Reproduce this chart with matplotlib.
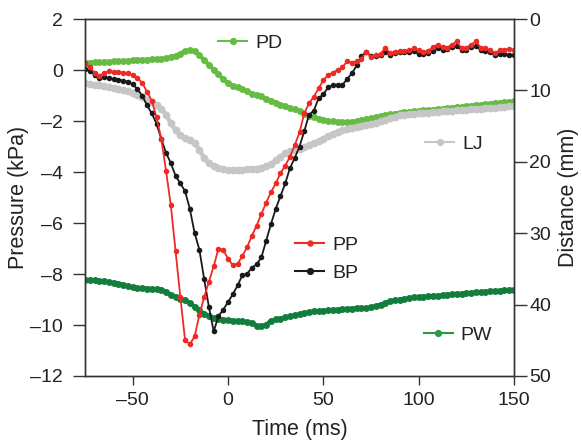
import numpy as np
import matplotlib
matplotlib.use("Agg")
import matplotlib.pyplot as plt
from matplotlib.lines import Line2D
from matplotlib.legend import Legend

plt.rcParams['font.family'] = ['Liberation Sans', 'DejaVu Sans']

# sample times (ms)
time_ms = np.arange(-75, 150.01, 2.5)

# Pressures (kPa)
pp = [0.27, 0.1, -0.1, -0.22, -0.13, -0.05, -0.07, -0.08, -0.1, -0.12,
      -0.2, -0.32, -0.5, -0.85, -1.2, -1.85, -2.7, -3.95, -5.3, -7.1,
      -8.9, -10.6, -10.75, -10.45, -9.6, -8.9, -8.3, -7.7, -7.0, -7.05,
      -7.4, -7.65, -7.6, -7.3, -6.95, -6.5, -6.1, -5.65, -5.2, -4.8,
      -4.45, -4.05, -3.75, -3.4, -2.95, -2.45, -1.7, -1.3, -1.05, -0.72,
      -0.4, -0.2, -0.1, 0.0, 0.1, 0.35, 0.28, 0.35, 0.45, 0.7,
      0.52, 0.58, 0.62, 0.88, 0.66, 0.72, 0.75, 0.76, 0.78, 0.85,
      0.78, 0.7, 0.76, 0.9, 1.0, 0.9, 0.88, 1.0, 1.12, 0.85,
      0.88, 1.0, 1.12, 0.88, 0.85, 0.78, 0.66, 0.78, 0.8, 0.82,
      0.8]
bp = [0.05, -0.05, -0.2, -0.33, -0.27, -0.32, -0.35, -0.38, -0.42, -0.46,
      -0.56, -0.75, -1.0, -1.38, -1.7, -2.1, -2.7, -3.25, -3.65, -4.15,
      -4.45, -4.75, -5.45, -6.4, -7.05, -8.2, -9.3, -10.25, -9.65, -9.4,
      -9.1, -8.8, -8.45, -8.05, -8.0, -7.75, -7.62, -7.35, -6.7, -6.05,
      -5.45, -4.95, -4.45, -3.85, -3.45, -3.0, -2.4, -1.75, -1.6, -1.1,
      -0.96, -0.68, -0.59, -0.59, -0.59, -0.35, -0.13, 0.18, 0.55, 0.7,
      0.55, 0.55, 0.58, 0.7, 0.6, 0.68, 0.7, 0.72, 0.72, 0.75,
      0.62, 0.62, 0.66, 0.75, 0.85, 0.8, 0.82, 0.9, 0.95, 0.78,
      0.8, 0.9, 0.95, 0.78, 0.75, 0.7, 0.58, 0.62, 0.62, 0.6,
      0.6]

# Distances (mm)
pd_ = [6.1, 6.1, 6.05, 6.05, 6.0, 6.0, 5.95, 5.95, 5.9, 5.85,
       5.8, 5.75, 5.7, 5.7, 5.65, 5.65, 5.6, 5.5, 5.35, 5.15,
       4.85, 4.5, 4.3, 4.55, 5.1, 5.75, 6.4, 7.1, 7.75, 8.45,
       9.0, 9.35, 9.55, 9.8, 10.15, 10.45, 10.65, 10.85, 11.2, 11.45,
       11.7, 12.0, 12.2, 12.45, 12.65, 12.95, 13.3, 13.55, 13.75, 13.95,
       14.1, 14.25, 14.35, 14.4, 14.45, 14.45, 14.4, 14.3, 14.15, 14.05,
       13.9, 13.75, 13.6, 13.45, 13.35, 13.25, 13.15, 13.05, 13.0, 12.95,
       12.85, 12.8, 12.75, 12.7, 12.65, 12.55, 12.5, 12.4, 12.35, 12.3,
       12.2, 12.15, 12.05, 12.0, 11.95, 11.85, 11.8, 11.7, 11.65, 11.6,
       11.55]
lj = [9.0, 9.1, 9.2, 9.3, 9.4, 9.5, 9.6, 9.8, 9.95, 10.1,
      10.35, 10.6, 10.9, 11.3, 11.6, 12.0, 12.6, 13.4, 14.6, 15.6,
      16.3, 16.7, 17.0, 17.4, 18.3, 19.5, 20.1, 20.6, 20.9, 21.0,
      21.1, 21.1, 21.1, 21.1, 21.05, 21.0, 20.95, 20.85, 20.6, 20.3,
      19.8, 19.3, 18.8, 18.5, 18.3, 18.2, 17.95, 17.7, 17.4, 17.1,
      16.75, 16.4, 16.05, 15.8, 15.6, 15.4, 15.25, 15.1, 14.95, 14.85,
      14.7, 14.5, 14.3, 14.1, 13.9, 13.7, 13.5, 13.4, 13.3, 13.25,
      13.2, 13.15, 13.1, 13.05, 13.0, 12.95, 12.9, 12.85, 12.8, 12.75,
      12.7, 12.65, 12.6, 12.55, 12.5, 12.45, 12.4, 12.35, 12.3, 12.25,
      12.2]
pw = [36.5, 36.55, 36.6, 36.7, 36.75, 36.85, 36.95, 37.05, 37.2, 37.45,
      37.6, 37.65, 37.7, 37.75, 37.8, 37.85, 37.9, 38.2, 38.6, 38.9,
      39.15, 39.4, 39.8, 40.3, 40.8, 41.3, 41.6, 41.85, 42.0, 42.1,
      42.2, 42.25, 42.3, 42.35, 42.45, 42.55, 42.95, 43.05, 42.8, 42.3,
      42.05, 41.95, 41.8, 41.65, 41.5, 41.35, 41.2, 41.05, 40.95, 40.9,
      40.85, 40.8, 40.75, 40.7, 40.65, 40.6, 40.55, 40.5, 40.5, 40.45,
      40.4, 40.2, 40.0, 39.75, 39.55, 39.4, 39.3, 39.2, 39.1, 39.0,
      38.95, 38.9, 38.85, 38.8, 38.75, 38.7, 38.6, 38.55, 38.5, 38.45,
      38.4, 38.35, 38.3, 38.25, 38.2, 38.15, 38.1, 38.05, 38.0, 37.95,
      37.9]

x_ticks = [-50, 0, 50, 100, 150]
p_ticks = [2, 0, -2, -4, -6, -8, -10, -12]
d_ticks = [0, 10, 20, 30, 40, 50]

C_PP = '#ee2a24'
C_BP = '#1a1a1a'
C_PD = '#66bb44'
C_LJ = '#c6c6c6'
C_PW = '#127d3c'
TXT = '#222222'
FS = 14
FSL = 15.5

fig = plt.figure(figsize=(5.82, 4.43), dpi=100)
ax = fig.add_axes([85/582, 1-376/443, 429/582, 357/443])  # distance axis (below)
ax2 = ax.twinx()                                              # pressure axis (on top)

# distance series
ax.plot(time_ms, pd_, color=C_PD, lw=3.0, marker='o', ms=5.0, mec='none')
ax.plot(time_ms, lj, color=C_LJ, lw=3.2, marker='o', ms=5.6, mec='none')
ax.plot(time_ms, pw, color=C_PW, lw=3.0, marker='o', ms=5.0, mec='none')

# pressure series
ax2.plot(time_ms, bp, color=C_BP, lw=1.3, marker='o', ms=4.0, mec='none')
ax2.plot(time_ms, pp, color=C_PP, lw=1.3, marker='o', ms=4.0, mec='none')

ax.set_xlim(-75, 150)
ax.set_ylim(50, 0)
ax2.set_ylim(-12, 2)

ax.yaxis.tick_right()
ax.yaxis.set_label_position('right')
ax2.yaxis.tick_left()
ax2.yaxis.set_label_position('left')

ax.set_xticks(x_ticks)
ax.set_xticklabels([f"{v}".replace('-', '\u2013') for v in x_ticks])
ax.set_yticks(d_ticks)
ax2.set_yticks(p_ticks)
ax2.set_yticklabels([f"{v}".replace('-', '\u2013') for v in p_ticks])

for a in (ax, ax2):
    for s in a.spines.values():
        s.set_linewidth(1.0)
        s.set_color('#333333')
ax.tick_params(axis='x', direction='out', length=6.5, width=1.0, color='#333333',
               labelsize=FS, labelcolor=TXT, pad=5)
ax.tick_params(axis='y', direction='out', length=9, width=1.0, color='#333333',
               labelsize=FS, labelcolor=TXT, pad=2, right=True, left=False)
ax2.tick_params(axis='y', direction='out', length=9, width=1.0, color='#333333',
                labelsize=FS, labelcolor=TXT, pad=7, left=True, right=False)

ax.set_xlabel('Time (ms)', fontsize=FSL, color=TXT, labelpad=7)
ax.set_ylabel('Distance (mm)', fontsize=FSL, color=TXT, labelpad=5)
ax2.set_ylabel('Pressure (kPa)', fontsize=FSL, color=TXT, labelpad=1)

def add_label(axis, name, color, xa, ya, ms=5.2):
    h = Line2D([], [], color=color, lw=1.5, marker='o', ms=ms, mec='none')
    lg = Legend(axis, [h], [name], loc='center left', bbox_to_anchor=(xa, ya),
                frameon=False, fontsize=FS, handlelength=1.5,
                handletextpad=0.4, borderpad=0, borderaxespad=0,
                labelcolor=TXT)
    axis.add_artist(lg)

add_label(ax2, 'PD', C_PD, 0.310, 0.933)
add_label(ax2, 'LJ', C_LJ, 0.793, 0.650)
add_label(ax2, 'PP', C_PP, 0.4895, 0.367, ms=4.6)
add_label(ax2, 'BP', C_BP, 0.4895, 0.289)
add_label(ax2, 'PW', '#2a9a48', 0.790, 0.115)

fig.savefig('out.png', dpi=100)
